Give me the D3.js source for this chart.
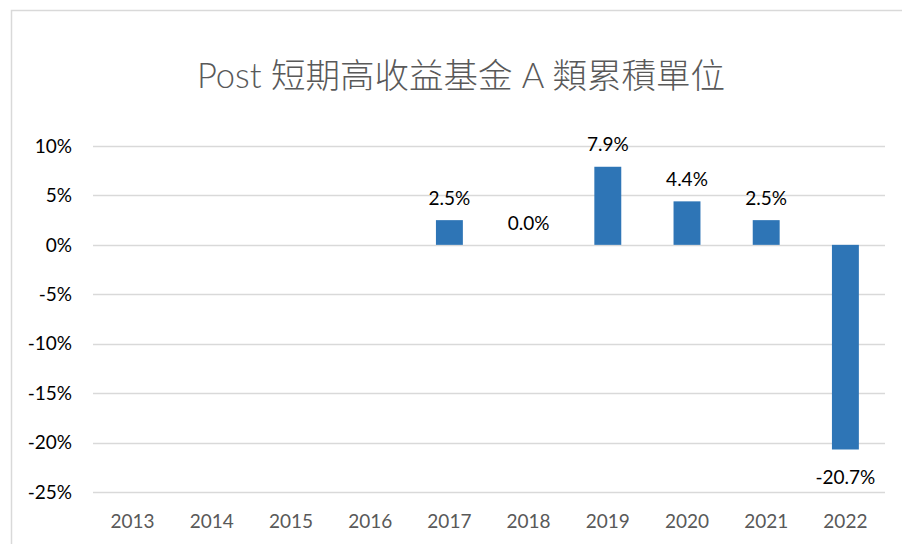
<!DOCTYPE html>
<html>
<head>
<meta charset="utf-8">
<script src="https://cdn.jsdelivr.net/npm/d3@7"></script>
<style>
  body { margin: 0; background: #fff; }
  svg text { font-family: Lato, "Noto Sans CJK TC", sans-serif; }
</style>
</head>
<body>
<div id="chart"></div>
<script>
const width = 902,
      height = 544;

const years = ["2013", "2014", "2015", "2016", "2017", "2018", "2019", "2020", "2021", "2022"];
const values = [null, null, null, null, 2.5, 0.0, 7.9, 4.4, 2.5, -20.7];
const yTicks = [10, 5, 0, -5, -10, -15, -20, -25];
const title = "Post 短期高收益基金 A 類累積單位";

const svg = d3.select("#chart")
  .append("svg")
  .attr("width", width)
  .attr("height", height);

// chart frame
svg.append("rect")
  .attr("x", 11.5).attr("y", 10.5)
  .attr("width", 1000).attr("height", 1000)
  .attr("fill", "none")
  .attr("stroke", "#d9d9d9")
  .attr("stroke-width", 1.5);

svg.append("text")
  .attr("x", 461).attr("y", 88)
  .attr("text-anchor", "middle")
  .attr("fill", "#595959")
  .style("font-size", "34.5px")
  .style("font-weight", 300)
  .text(title);

const x = d3.scaleBand()
  .domain(years)
  .range([93, 885])
  .paddingInner(0.66)
  .paddingOuter(0.33);

const y = d3.scaleLinear()
  .domain([-25, 10])
  .range([492, 146]);

// gridlines
svg.append("g")
  .selectAll("line")
  .data(yTicks)
  .join("line")
  .attr("x1", 93).attr("x2", 885)
  .attr("y1", d => Math.round(y(d)) + 0.5)
  .attr("y2", d => Math.round(y(d)) + 0.5)
  .attr("stroke", "#d9d9d9")
  .attr("stroke-width", 1.5);

// y labels
svg.append("g")
  .selectAll("text")
  .data(yTicks)
  .join("text")
  .attr("x", 72)
  .attr("y", d => y(d))
  .attr("dy", "0.35em")
  .attr("text-anchor", "end")
  .attr("fill", "#000")
  .style("font-size", "19px")
  .text(d => d + "%");

// x labels
svg.append("g")
  .selectAll("text")
  .data(years)
  .join("text")
  .attr("x", d => x(d) + x.bandwidth() / 2)
  .attr("y", 528)
  .attr("text-anchor", "middle")
  .attr("fill", "#595959")
  .style("font-size", "19px")
  .text(d => d);

const data = years.map((yr, i) => ({ year: yr, value: values[i] }))
  .filter(d => d.value !== null);

// bars
svg.append("g")
  .selectAll("rect")
  .data(data)
  .join("rect")
  .attr("x", d => x(d.year))
  .attr("y", d => y(Math.max(0, d.value)))
  .attr("width", x.bandwidth())
  .attr("height", d => Math.abs(y(d.value) - y(0)))
  .attr("fill", "#2E75B6");

// data labels
svg.append("g")
  .selectAll("text")
  .data(data)
  .join("text")
  .attr("x", d => x(d.year) + x.bandwidth() / 2)
  .attr("y", d => d.value >= 0 ? y(d.value) - 22 : y(d.value) + 28)
  .attr("dy", "0.35em")
  .attr("text-anchor", "middle")
  .attr("fill", "#000")
  .style("font-size", "19px")
  .text(d => d.value.toFixed(1) + "%");
</script>
</body>
</html>
